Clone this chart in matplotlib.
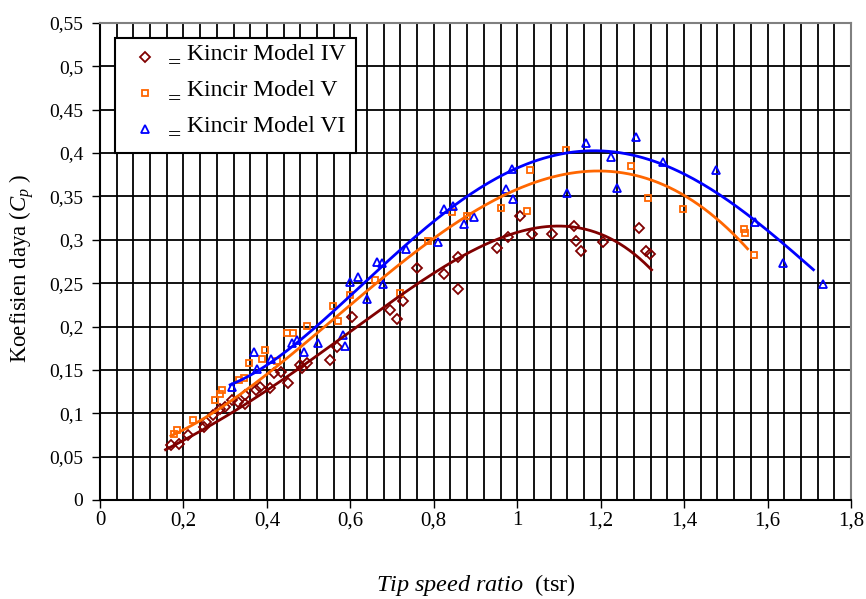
import numpy as np
import matplotlib
matplotlib.use("Agg")
import matplotlib.pyplot as plt
from matplotlib.ticker import MultipleLocator, FuncFormatter
from matplotlib.transforms import IdentityTransform

# ---------------- data ----------------
labels = ["Kincir Model IV", "Kincir Model V", "Kincir Model VI"]

tsr_iv = [0.169, 0.189, 0.212, 0.250, 0.253, 0.272, 0.288, 0.300, 0.316, 0.330,
          0.348, 0.348, 0.375, 0.384, 0.407, 0.418, 0.434, 0.451, 0.479, 0.483,
          0.495, 0.551, 0.567, 0.603, 0.695, 0.711, 0.727, 0.759, 0.825, 0.857,
          0.857, 0.952, 0.979, 1.007, 1.036, 1.083, 1.136, 1.141, 1.152, 1.206,
          1.293, 1.309, 1.318]
cp_iv = [0.063, 0.065, 0.075, 0.084, 0.090, 0.098, 0.105, 0.107, 0.115, 0.113,
         0.121, 0.111, 0.127, 0.130, 0.129, 0.147, 0.148, 0.135, 0.156, 0.152,
         0.158, 0.161, 0.176, 0.211, 0.219, 0.209, 0.229, 0.267, 0.261, 0.280,
         0.243, 0.291, 0.303, 0.327, 0.307, 0.307, 0.316, 0.299, 0.287, 0.298,
         0.314, 0.287, 0.284]

tsr_v = [0.178, 0.184, 0.224, 0.276, 0.288, 0.292, 0.332, 0.344, 0.357, 0.389,
         0.395, 0.424, 0.449, 0.463, 0.495, 0.559, 0.571, 0.599, 0.659, 0.719,
         0.785, 0.843, 0.879, 0.960, 1.023, 1.031, 1.116, 1.272, 1.314, 1.398,
         1.544, 1.546, 1.568]
cp_v = [0.076, 0.081, 0.092, 0.115, 0.122, 0.127, 0.138, 0.141, 0.158, 0.163,
        0.173, 0.160, 0.193, 0.192, 0.201, 0.224, 0.206, 0.236, 0.254, 0.239,
        0.299, 0.332, 0.327, 0.337, 0.333, 0.380, 0.404, 0.385, 0.348, 0.336,
        0.312, 0.308, 0.282]

tsr_vi = [0.316, 0.370, 0.376, 0.411, 0.459, 0.471, 0.490, 0.523, 0.583, 0.587,
          0.599, 0.619, 0.639, 0.663, 0.675, 0.679, 0.733, 0.809, 0.825, 0.845,
          0.872, 0.896, 0.973, 0.987, 0.989, 1.120, 1.164, 1.224, 1.240, 1.285,
          1.350, 1.476, 1.570, 1.636, 1.732]
cp_vi = [0.130, 0.171, 0.151, 0.163, 0.181, 0.184, 0.171, 0.181, 0.190, 0.177,
         0.251, 0.257, 0.232, 0.275, 0.273, 0.249, 0.289, 0.298, 0.336, 0.339,
         0.318, 0.326, 0.359, 0.382, 0.347, 0.354, 0.412, 0.395, 0.360, 0.418,
         0.390, 0.380, 0.321, 0.273, 0.249]

# polynomial trend lines: values
trend_iv_x = [0.157, 0.300, 0.479, 0.700, 0.900, 1.007, 1.067, 1.206, 1.322]
trend_iv_y = [0.056, 0.101, 0.150, 0.224, 0.294, 0.313, 0.316, 0.297, 0.269]
trend_v_x = [0.170, 0.479, 0.700, 0.900, 1.079, 1.163, 1.294, 1.398, 1.552]
trend_v_y = [0.073, 0.181, 0.259, 0.328, 0.380, 0.384, 0.371, 0.344, 0.293]
trend_vi_x = [0.312, 0.479, 0.700, 0.900, 1.079, 1.198, 1.294, 1.366, 1.478,
              1.570, 1.710]
trend_vi_y = [0.129, 0.194, 0.274, 0.348, 0.402, 0.408, 0.400, 0.381, 0.348,
              0.321, 0.268]

x_ticks = [0, 0.2, 0.4, 0.6, 0.8, 1.0, 1.2, 1.4, 1.6, 1.8]
y_ticks = [0, 0.05, 0.1, 0.15, 0.2, 0.25, 0.3, 0.35, 0.4, 0.45, 0.5, 0.55]

# ---------------- style ----------------
plt.rcParams['font.family'] = ['Liberation Serif', 'DejaVu Serif']
plt.rcParams['mathtext.fontset'] = 'custom'
plt.rcParams['mathtext.rm'] = 'Liberation Serif'
plt.rcParams['mathtext.it'] = 'Liberation Serif:italic'

fig = plt.figure(figsize=(8.66, 5.99), dpi=100)
ax = fig.add_axes([100 / 866, 1 - 500 / 599, 751 / 866, 477 / 599])

series = [
    (tsr_iv, cp_iv, trend_iv_x, trend_iv_y, '#800000', 'D', 4.6),
    (tsr_v, cp_v, trend_v_x, trend_v_y, '#FF6600', 's', 4.6),
    (tsr_vi, cp_vi, trend_vi_x, trend_vi_y, '#0000FF', '^', 5.6),
]

handles = []
for (xs, ys, tx, ty, col, mk, ms), lab in zip(series, labels):
    h, = ax.plot(xs, ys, linestyle='none', marker=mk, ms=ms, mfc='none',
                 mec=col, mew=1.3, zorder=3, label=lab)
    handles.append(h)
    coef = np.polyfit(tx, ty, 4)
    xf = np.linspace(tx[0], tx[-1], 200)
    ax.plot(xf, np.polyval(coef, xf), color=col, lw=2.0, zorder=4)

ax.set_xlim(0, 1.8)
ax.set_ylim(0, 0.55)
ax.set_xticks(x_ticks)
ax.set_yticks(y_ticks)
fmt = FuncFormatter(lambda v, p: ('%g' % round(v, 2)).replace('.', ','))
ax.xaxis.set_major_formatter(fmt)
ax.yaxis.set_major_formatter(fmt)
ax.xaxis.set_minor_locator(MultipleLocator(0.04))
ax.tick_params(axis='both', which='major', direction='out', length=6,
               width=1.0, color='black')
ax.tick_params(axis='x', which='major', pad=2, labelsize=15)
ax.tick_params(axis='y', which='major', pad=6, labelsize=14)
ax.tick_params(axis='x', which='minor', length=0)
ax.grid(True, axis='x', which='both', color='black', lw=1.3)
ax.grid(True, axis='y', which='major', color='black', lw=1.3)
ax.set_axisbelow(True)

for s in ['left', 'bottom']:
    ax.spines[s].set_color('black')
    ax.spines[s].set_linewidth(1.5)
for s in ['top', 'right']:
    ax.spines[s].set_color('#808080')
    ax.spines[s].set_linewidth(1.5)

fig.text(476 / 866, 1 - 585 / 599, r"$\it{Tip\ speed\ ratio}$  (tsr)",
         ha='center', va='center', fontsize=17.5)
fig.text(22 / 866, 1 - 268 / 599, r"Koefisien daya ($C_p$ )",
         ha='center', va='center', rotation=90, fontsize=16.5)

leg = ax.legend(handles=handles, loc='upper left',
                bbox_to_anchor=(15 / 751, 1 - 15 / 477),
                fontsize=17, frameon=True, fancybox=False, borderpad=0.45,
                handlelength=1.6, handletextpad=1.0, labelspacing=0.62,
                borderaxespad=0, framealpha=1)
leg.get_frame().set_edgecolor('black')
leg.get_frame().set_linewidth(1.5)

fig.canvas.draw()
r = fig.canvas.get_renderer()
for t in leg.get_texts():
    bb = t.get_window_extent(r)
    cy = 0.5 * (bb.y0 + bb.y1)
    fig.text(bb.x0 - 13, cy - 4, "=", ha='center', va='center',
             fontsize=17, transform=IdentityTransform())
    t.set_position((0, 5))

fig.savefig("out.png", dpi=100)
